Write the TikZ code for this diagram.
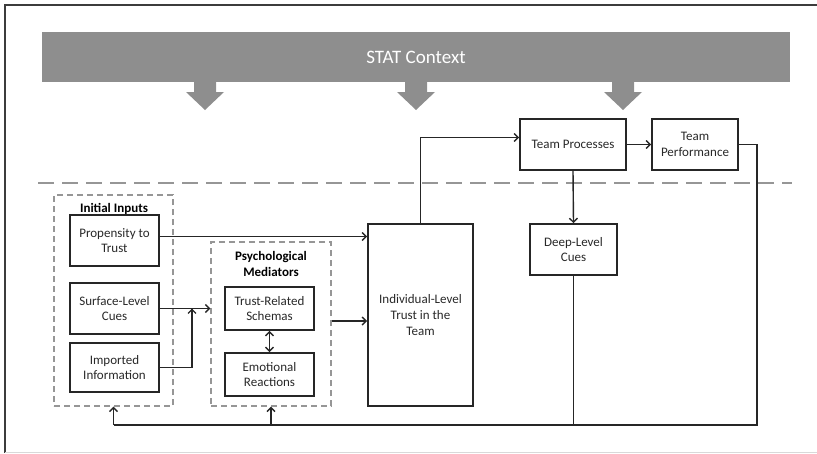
\documentclass[tikz,border=0pt]{standalone}
\usepackage{fontspec}
\setmainfont{Carlito}
\usetikzlibrary{arrows.meta}
\definecolor{bannergray}{RGB}{142,142,142}
\definecolor{dashgray}{RGB}{150,150,150}
\definecolor{framegray}{RGB}{60,60,60}
\definecolor{textgray}{RGB}{40,40,40}
\begin{document}
\begin{tikzpicture}[x=1pt,y=-1pt,
  every node/.style={text=textgray},
  box/.style={draw=black!85, line width=1.6pt, align=center, inner sep=0pt,
    font=\fontsize{13}{15.7}\selectfont},
  group/.style={draw=dashgray, dash pattern=on 6pt off 4pt, line width=1.3pt, inner sep=0pt},
  grouplabel/.style={align=center, font=\fontsize{13}{15.7}\selectfont\bfseries, text=black},
  conn/.style={draw=black!85, line width=1.4pt, -{Straight Barb[length=4pt,width=8pt]}},
  link/.style={draw=black!85, line width=1.4pt},
  ctxarrow/.style={fill=bannergray}
]
\useasboundingbox (0,0) rectangle (817,453);
% frame
\draw[framegray, line width=1.2pt] (817,5) -- (5,5) -- (5,453);
\draw[black!15, line width=1pt] (5,452) -- (817,452);

% banner
\fill[bannergray] (42,32) rectangle (790,82);
\node[text=white, font=\fontsize{19}{22}\selectfont] (ctx) at (416,57) {STAT Context};
\foreach \cx in {205,416,623}{
  \fill[bannergray] (\cx-11,81) -- (\cx+11,81) -- (\cx+11,92) -- (\cx+19,92) -- (\cx,110)
     -- (\cx-19,92) -- (\cx-11,92) -- cycle;
}

% separator
\draw[dashgray, line width=2pt, dash pattern=on 16pt off 8pt] (38,183) -- (792,183);

% groups
\node[group, minimum width=119pt, minimum height=211pt] (init) at (113.5,300.5) {};
\node[grouplabel] (initlab) at (114,209) {Initial Inputs};
\node[group, minimum width=120pt, minimum height=164pt] (psych) at (271,324) {};
\node[grouplabel] (psychlab) at (271,264) {Psychological\\Mediators};

% boxes
\node[box, minimum width=89pt, minimum height=51pt] (prop) at (114.5,240.5) {Propensity to\\Trust};
\node[box, minimum width=89pt, minimum height=51pt] (surf) at (114.5,308.5) {Surface-Level\\Cues};
\node[box, minimum width=89pt, minimum height=49pt] (imp) at (114.5,367.5) {Imported\\Information};
\node[box, minimum width=89pt, minimum height=43pt] (trs) at (269.5,308.5) {Trust-Related\\Schemas};
\node[box, minimum width=89pt, minimum height=43pt] (emo) at (269.5,374.5) {Emotional\\Reactions};
\node[box, minimum width=105pt, minimum height=182pt] (ind) at (420.5,315) {Individual-Level\\Trust in the\\Team};
\node[box, minimum width=106pt, minimum height=51pt] (tp) at (573,144.5) {Team Processes};
\node[box, minimum width=86pt, minimum height=51pt] (tperf) at (695,144.5) {Team\\Performance};
\node[box, minimum width=87pt, minimum height=51pt] (dlc) at (573.5,249.5) {Deep-Level\\Cues};

% connectors
\coordinate (junc) at (192,308.5);
\coordinate (fbR) at (757,425);
\coordinate (fbL) at (113.5,425);
\draw[conn] ([yshift=4pt]prop.east) -- ([yshift=4pt]prop.east -| ind.west);
\draw[conn] (surf.east) -- (surf.east -| psych.west);
\draw[link] (imp.east) -| (junc);
\draw[conn] ([yshift=-20pt]junc) -- (junc);
\draw[conn] ([yshift=3pt]psych.east) -- ([yshift=3pt]psych.east -| ind.west);
\draw[conn, {Straight Barb[length=4pt,width=8pt]}-{Straight Barb[length=4pt,width=8pt]}] (trs.south) -- (emo.north);
\draw[conn] (ind.north) |- ([yshift=7pt]tp.west);
\draw[conn] (tp.east) -- (tperf.west);
\draw[conn] (tp.south) -- (dlc.north);
\draw[link] (tperf.east) -| (fbR) -- (fbL);
\draw[link] (dlc.south) -- (dlc.south |- fbR);
\draw[conn] (fbL) -- (init.south);
\draw[conn] (psych.south |- fbL) -- (psych.south);
\end{tikzpicture}
\end{document}
